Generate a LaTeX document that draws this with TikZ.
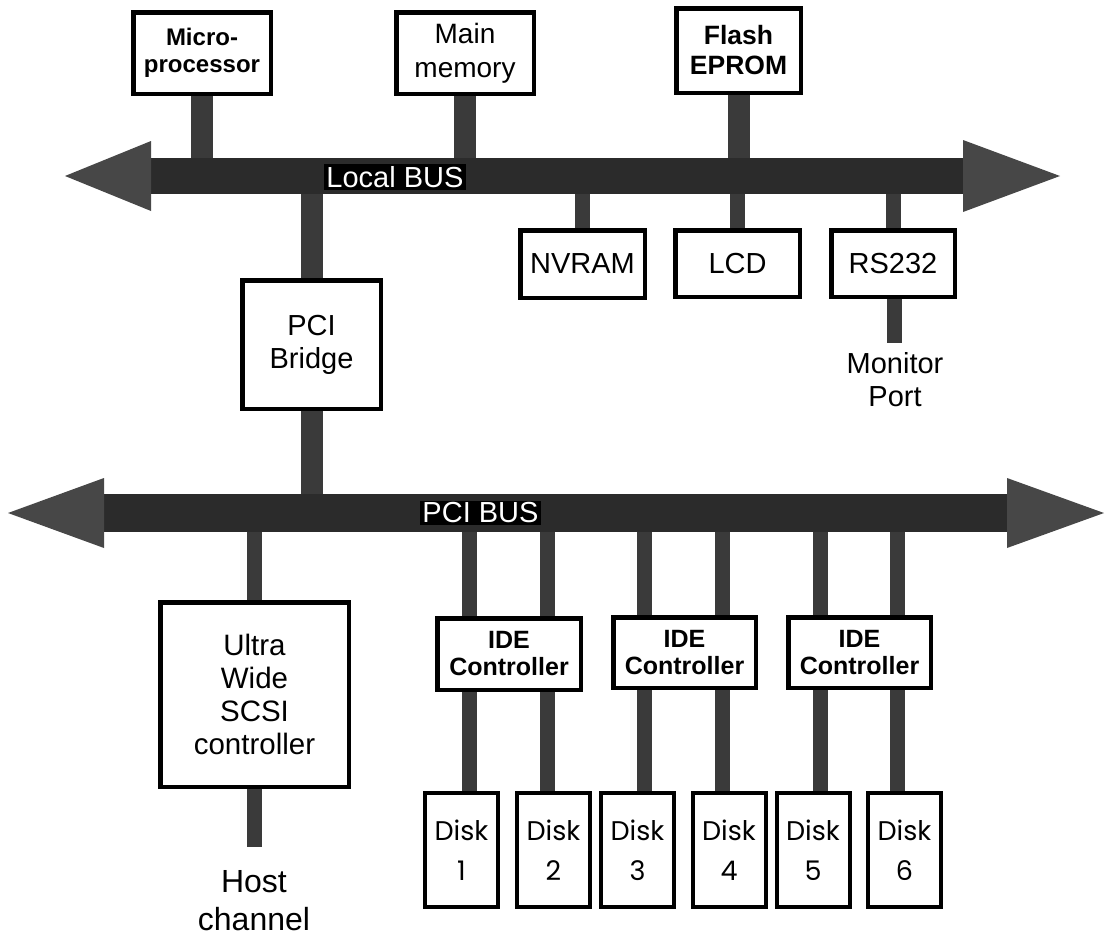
\documentclass[tikz,border=0pt]{standalone}
\usepackage{fontspec}
\setmainfont{Liberation Sans}
\newfontfamily\diskfont{Poppins}
\definecolor{busc}{HTML}{2B2B2B}
\definecolor{headc}{HTML}{474747}
\definecolor{stubc}{HTML}{3A3A3A}
\pgfdeclarelayer{stublayer}
\pgfdeclarelayer{buslayer}
\pgfsetlayers{stublayer,buslayer,main}
\begin{document}
\begin{tikzpicture}[x=1pt,y=-1pt,
  box/.style={draw=black, line width=4.5pt, fill=white, inner sep=0pt, align=center},
  wstub/.style={draw=stubc, line width=22pt},
  nstub/.style={draw=stubc, line width=15pt},
  shaft/.style={fill=busc, draw=none, inner sep=0pt, outer sep=0pt},
  head/.style={fill=headc},
  buslabel/.style={fill=black, text=white, inner sep=2pt, font=\fontsize{29}{34}\selectfont},
  reg/.style={font=\fontsize{29}{33}\selectfont},
  bsmall/.style={font=\bfseries\fontsize{24}{27}\selectfont},
  bmid/.style={font=\bfseries\fontsize{26.5}{30}\selectfont},
  idebox/.style={box, font=\bfseries\fontsize{25}{27}\selectfont},
  diskbox/.style={box, line width=4pt, minimum width=73pt, minimum height=114pt, font=\diskfont\fontsize{27}{40}\selectfont},
  plain/.style={align=center, inner sep=0pt}
]
\useasboundingbox (0,0) rectangle (1106,937);

% ---- boxes
\node[box, minimum width=137.5pt, minimum height=81.5pt, bsmall] (micro) at (202,53) {Micro-\\processor};
\node[box, minimum width=137.5pt, minimum height=81.5pt, font=\fontsize{28}{34}\selectfont] (mem) at (465,53) {Main\\memory};
\node[box, minimum width=124.5pt, minimum height=84.5pt, bmid] (flash) at (738.5,50.5) {Flash\\EPROM};
\node[box, minimum width=124.5pt, minimum height=67.5pt, reg] (nvram) at (582.5,264) {\raisebox{-8pt}{NVRAM}};
\node[box, minimum width=124.5pt, minimum height=66.5pt, reg] (lcd) at (737.5,263.5) {\raisebox{-9pt}{LCD}};
\node[box, minimum width=123.5pt, minimum height=66.5pt, reg] (rs) at (893,263.5) {\raisebox{-6pt}{RS232}};
\node[box, minimum width=138.5pt, minimum height=128.5pt, reg] (bridge) at (311.5,344.5) {PCI\\Bridge};
\node[box, minimum width=188.5pt, minimum height=184.5pt, font=\fontsize{29.5}{33}\selectfont] (scsi) at (254.5,694.5) {Ultra\\Wide\\SCSI\\controller};
\node[idebox, minimum width=143.5pt, minimum height=71.5pt] (ide1) at (509,654) {IDE\\Controller};
\node[idebox, minimum width=142.5pt, minimum height=70.5pt] (ide2) at (684.5,652.5) {IDE\\Controller};
\node[idebox, minimum width=142.5pt, minimum height=70.5pt] (ide3) at (859.5,652.5) {IDE\\Controller};
\node[diskbox] (d1) at (461.5,850) {Disk\\1};
\node[diskbox] (d2) at (553.5,850) {Disk\\2};
\node[diskbox] (d3) at (637.5,850) {Disk\\3};
\node[diskbox] (d4) at (729,850) {Disk\\4};
\node[diskbox] (d5) at (813,850) {Disk\\5};
\node[diskbox] (d6) at (904.5,850) {Disk\\6};

% ---- free labels
\node[plain, font=\fontsize{29}{33}\selectfont] (monitor) at (895,380) {Monitor\\Port};
\node[plain, font=\fontsize{32}{38}\selectfont] (host) at (254,901) {Host\\channel};

% ---- free ends and stub positions
\coordinate (monend) at (894,343);
\coordinate (hostend) at (254.5,847);
\coordinate (s1) at (469,0);
\coordinate (s2) at (547,0);
\coordinate (s3) at (644,0);
\coordinate (s4) at (722,0);
\coordinate (s5) at (820,0);
\coordinate (s6) at (897,0);

% ---- buses
\begin{pgfonlayer}{buslayer}
\node[shaft, minimum width=814pt, minimum height=36pt] (lbus) at (557,176) {};
\fill[head] ([xshift=1pt,yshift=35pt]lbus.west) -- ([xshift=-85pt]lbus.west) -- ([xshift=1pt,yshift=-35pt]lbus.west) -- cycle;
\fill[head] ([xshift=-1pt,yshift=36pt]lbus.east) -- ([xshift=96pt]lbus.east) -- ([xshift=-1pt,yshift=-36pt]lbus.east) -- cycle;
\node[shaft, minimum width=905pt, minimum height=38pt] (pbus) at (555.5,513) {};
\fill[head] ([xshift=1pt,yshift=35pt]pbus.west) -- ([xshift=-95pt]pbus.west) -- ([xshift=1pt,yshift=-35pt]pbus.west) -- cycle;
\fill[head] ([xshift=-1pt,yshift=35pt]pbus.east) -- ([xshift=96pt]pbus.east) -- ([xshift=-1pt,yshift=-35pt]pbus.east) -- cycle;
\end{pgfonlayer}
\node[buslabel] (lbuslabel) at (395,177) {Local BUS};
\node[buslabel] (pbuslabel) at (480.5,513) {PCI BUS};

% ---- stubs
\begin{pgfonlayer}{stublayer}
\draw[wstub] (micro.south) -- (micro.south |- lbus.north);
\draw[wstub] (mem.south) -- (mem.south |- lbus.north);
\draw[wstub] (flash.south) -- (flash.south |- lbus.north);
\draw[nstub] (nvram.north) -- (nvram.north |- lbus.south);
\draw[nstub] (lcd.north) -- (lcd.north |- lbus.south);
\draw[nstub] (rs.north) -- (rs.north |- lbus.south);
\draw[nstub] (rs.south -| monend) -- (monend);
\draw[wstub] (bridge.north) -- (bridge.north |- lbus.south);
\draw[wstub] (bridge.south) -- (bridge.south |- pbus.north);
\draw[nstub] (scsi.north) -- (scsi.north |- pbus.south);
\draw[nstub] (scsi.south) -- (hostend);
\draw[nstub] (pbus.south -| s1) -- (d1.north -| s1);
\draw[nstub] (pbus.south -| s2) -- (d2.north -| s2);
\draw[nstub] (pbus.south -| s3) -- (d3.north -| s3);
\draw[nstub] (pbus.south -| s4) -- (d4.north -| s4);
\draw[nstub] (pbus.south -| s5) -- (d5.north -| s5);
\draw[nstub] (pbus.south -| s6) -- (d6.north -| s6);
\end{pgfonlayer}
\end{tikzpicture}
\end{document}
